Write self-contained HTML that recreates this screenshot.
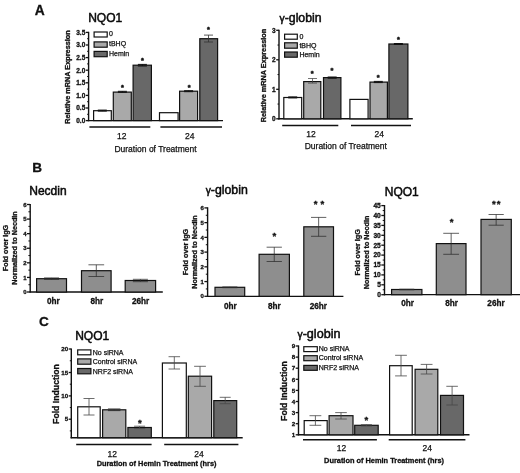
<!DOCTYPE html>
<html><head><meta charset="utf-8"><title>Figure</title>
<style>
html,body{margin:0;padding:0;background:#fff;}
body{width:520px;height:473px;overflow:hidden;}
svg{display:block;font-family:"Liberation Sans", Arial, sans-serif;}
</style></head><body>
<svg width="520" height="473" viewBox="0 0 520 473" style="filter:blur(0.35px)">
<rect x="0" y="0" width="520" height="473" fill="#fff"/>
<text x="39.80" y="15.20" font-size="13.8" font-weight="bold" stroke="#111" stroke-width="0.3" text-anchor="middle" fill="#111">A</text>
<text x="105.20" y="22.20" font-size="12" stroke="#0a0a0a" stroke-width="0.5" text-anchor="middle" fill="#0a0a0a">NQO1</text>
<line x1="88.60" y1="31.80" x2="88.60" y2="121.20" stroke="#111" stroke-width="1.4"/>
<line x1="85.80" y1="120.60" x2="88.60" y2="120.60" stroke="#111" stroke-width="1.3"/>
<text x="85.30" y="122.94" font-size="6.5" font-weight="bold" stroke="#111" stroke-width="0.3" text-anchor="end" fill="#111">0.0</text>
<line x1="85.80" y1="108.00" x2="88.60" y2="108.00" stroke="#111" stroke-width="1.3"/>
<text x="85.30" y="110.34" font-size="6.5" font-weight="bold" stroke="#111" stroke-width="0.3" text-anchor="end" fill="#111">0.5</text>
<line x1="85.80" y1="95.40" x2="88.60" y2="95.40" stroke="#111" stroke-width="1.3"/>
<text x="85.30" y="97.74" font-size="6.5" font-weight="bold" stroke="#111" stroke-width="0.3" text-anchor="end" fill="#111">1.0</text>
<line x1="85.80" y1="82.80" x2="88.60" y2="82.80" stroke="#111" stroke-width="1.3"/>
<text x="85.30" y="85.14" font-size="6.5" font-weight="bold" stroke="#111" stroke-width="0.3" text-anchor="end" fill="#111">1.5</text>
<line x1="85.80" y1="70.20" x2="88.60" y2="70.20" stroke="#111" stroke-width="1.3"/>
<text x="85.30" y="72.54" font-size="6.5" font-weight="bold" stroke="#111" stroke-width="0.3" text-anchor="end" fill="#111">2.0</text>
<line x1="85.80" y1="57.60" x2="88.60" y2="57.60" stroke="#111" stroke-width="1.3"/>
<text x="85.30" y="59.94" font-size="6.5" font-weight="bold" stroke="#111" stroke-width="0.3" text-anchor="end" fill="#111">2.5</text>
<line x1="85.80" y1="45.00" x2="88.60" y2="45.00" stroke="#111" stroke-width="1.3"/>
<text x="85.30" y="47.34" font-size="6.5" font-weight="bold" stroke="#111" stroke-width="0.3" text-anchor="end" fill="#111">3.0</text>
<line x1="85.80" y1="32.40" x2="88.60" y2="32.40" stroke="#111" stroke-width="1.3"/>
<text x="85.30" y="34.74" font-size="6.5" font-weight="bold" stroke="#111" stroke-width="0.3" text-anchor="end" fill="#111">3.5</text>
<line x1="87.10" y1="38.70" x2="88.60" y2="38.70" stroke="#111" stroke-width="1.0"/>
<line x1="87.10" y1="51.30" x2="88.60" y2="51.30" stroke="#111" stroke-width="1.0"/>
<line x1="87.10" y1="63.90" x2="88.60" y2="63.90" stroke="#111" stroke-width="1.0"/>
<line x1="87.10" y1="76.50" x2="88.60" y2="76.50" stroke="#111" stroke-width="1.0"/>
<line x1="87.10" y1="89.10" x2="88.60" y2="89.10" stroke="#111" stroke-width="1.0"/>
<line x1="87.10" y1="101.70" x2="88.60" y2="101.70" stroke="#111" stroke-width="1.0"/>
<line x1="87.10" y1="114.30" x2="88.60" y2="114.30" stroke="#111" stroke-width="1.0"/>
<line x1="87.60" y1="120.60" x2="223.00" y2="120.60" stroke="#111" stroke-width="1.4"/>
<rect x="93.60" y="110.70" width="17.70" height="9.90" fill="#fff" stroke="#111" stroke-width="1.2"/>
<rect x="113.30" y="92.10" width="18.00" height="28.50" fill="#a9a9a9" stroke="#111" stroke-width="1.2"/>
<rect x="133.10" y="65.20" width="18.30" height="55.40" fill="#686868" stroke="#111" stroke-width="1.2"/>
<rect x="159.50" y="112.70" width="18.60" height="7.90" fill="#fff" stroke="#111" stroke-width="1.2"/>
<rect x="179.60" y="91.20" width="18.00" height="29.40" fill="#a9a9a9" stroke="#111" stroke-width="1.2"/>
<rect x="199.80" y="38.70" width="17.80" height="81.90" fill="#686868" stroke="#111" stroke-width="1.2"/>
<line x1="208.50" y1="35.10" x2="208.50" y2="42.00" stroke="#333" stroke-width="0.8"/>
<line x1="204.00" y1="35.10" x2="213.00" y2="35.10" stroke="#333" stroke-width="0.8"/>
<line x1="204.00" y1="42.00" x2="213.00" y2="42.00" stroke="#333" stroke-width="0.8"/>
<line x1="142.40" y1="64.40" x2="142.40" y2="66.00" stroke="#111" stroke-width="1.0"/>
<line x1="137.90" y1="64.40" x2="146.90" y2="64.40" stroke="#111" stroke-width="1.0"/>
<line x1="137.90" y1="66.00" x2="146.90" y2="66.00" stroke="#111" stroke-width="1.0"/>
<line x1="102.30" y1="110.10" x2="102.30" y2="111.10" stroke="#111" stroke-width="1.0"/>
<line x1="97.80" y1="110.10" x2="106.80" y2="110.10" stroke="#111" stroke-width="1.0"/>
<line x1="97.80" y1="111.10" x2="106.80" y2="111.10" stroke="#111" stroke-width="1.0"/>
<line x1="122.40" y1="91.30" x2="122.40" y2="92.30" stroke="#111" stroke-width="1.0"/>
<line x1="117.90" y1="91.30" x2="126.90" y2="91.30" stroke="#111" stroke-width="1.0"/>
<line x1="117.90" y1="92.30" x2="126.90" y2="92.30" stroke="#111" stroke-width="1.0"/>
<line x1="188.60" y1="90.70" x2="188.60" y2="91.70" stroke="#111" stroke-width="1.0"/>
<line x1="184.10" y1="90.70" x2="193.10" y2="90.70" stroke="#111" stroke-width="1.0"/>
<line x1="184.10" y1="91.70" x2="193.10" y2="91.70" stroke="#111" stroke-width="1.0"/>
<text x="122.40" y="89.90" font-size="7.4" font-weight="bold" text-anchor="middle" fill="#111" stroke="#111" stroke-width="0.45">*</text>
<text x="142.40" y="63.10" font-size="7.4" font-weight="bold" text-anchor="middle" fill="#111" stroke="#111" stroke-width="0.45">*</text>
<text x="189.20" y="89.80" font-size="7.4" font-weight="bold" text-anchor="middle" fill="#111" stroke="#111" stroke-width="0.45">*</text>
<text x="208.50" y="32.10" font-size="7.4" font-weight="bold" text-anchor="middle" fill="#111" stroke="#111" stroke-width="0.45">*</text>
<rect x="94.10" y="32.00" width="13.10" height="5.00" fill="#fff" stroke="#111" stroke-width="1.2"/>
<text x="109.00" y="36.40" font-size="7" stroke="#111" stroke-width="0.25" text-anchor="start" fill="#111">0</text>
<rect x="94.10" y="41.90" width="13.10" height="5.30" fill="#a9a9a9" stroke="#111" stroke-width="1.2"/>
<text x="109.00" y="46.45" font-size="7" stroke="#111" stroke-width="0.25" text-anchor="start" fill="#111">tBHQ</text>
<rect x="94.10" y="51.40" width="13.10" height="5.30" fill="#686868" stroke="#111" stroke-width="1.2"/>
<text x="109.00" y="55.95" font-size="7" stroke="#111" stroke-width="0.25" text-anchor="start" fill="#111">Hemin</text>
<line x1="89.40" y1="126.90" x2="150.30" y2="126.90" stroke="#111" stroke-width="1.5"/>
<line x1="160.40" y1="126.90" x2="222.00" y2="126.90" stroke="#111" stroke-width="1.5"/>
<text x="121.80" y="139.10" font-size="8.5" stroke="#111" stroke-width="0.25" text-anchor="middle" fill="#111">12</text>
<text x="189.80" y="139.10" font-size="8.5" stroke="#111" stroke-width="0.25" text-anchor="middle" fill="#111">24</text>
<text x="155.50" y="152.00" font-size="8.5" stroke="#111" stroke-width="0.25" text-anchor="middle" fill="#111">Duration of Treatment</text>
<text x="69.80" y="77.00" font-size="7.3" font-weight="bold" stroke="#111" stroke-width="0.3" text-anchor="middle" transform="rotate(-90 69.80 77.00)" fill="#111">Relative mRNA Expression</text>
<text x="300.60" y="22.00" font-size="12.3" stroke="#0a0a0a" stroke-width="0.5" text-anchor="middle" fill="#0a0a0a"><tspan font-size="10.3">γ</tspan>-globin</text>
<line x1="279.00" y1="29.70" x2="279.00" y2="119.40" stroke="#111" stroke-width="1.4"/>
<line x1="276.20" y1="118.80" x2="279.00" y2="118.80" stroke="#111" stroke-width="1.3"/>
<text x="275.70" y="121.14" font-size="6.5" font-weight="bold" stroke="#111" stroke-width="0.3" text-anchor="end" fill="#111">0</text>
<line x1="276.20" y1="89.30" x2="279.00" y2="89.30" stroke="#111" stroke-width="1.3"/>
<text x="275.70" y="91.64" font-size="6.5" font-weight="bold" stroke="#111" stroke-width="0.3" text-anchor="end" fill="#111">1</text>
<line x1="276.20" y1="59.80" x2="279.00" y2="59.80" stroke="#111" stroke-width="1.3"/>
<text x="275.70" y="62.14" font-size="6.5" font-weight="bold" stroke="#111" stroke-width="0.3" text-anchor="end" fill="#111">2</text>
<line x1="276.20" y1="30.30" x2="279.00" y2="30.30" stroke="#111" stroke-width="1.3"/>
<text x="275.70" y="32.64" font-size="6.5" font-weight="bold" stroke="#111" stroke-width="0.3" text-anchor="end" fill="#111">3</text>
<line x1="277.50" y1="45.05" x2="279.00" y2="45.05" stroke="#111" stroke-width="1.0"/>
<line x1="277.50" y1="74.55" x2="279.00" y2="74.55" stroke="#111" stroke-width="1.0"/>
<line x1="277.50" y1="104.05" x2="279.00" y2="104.05" stroke="#111" stroke-width="1.0"/>
<line x1="278.30" y1="118.80" x2="412.80" y2="118.80" stroke="#111" stroke-width="1.4"/>
<rect x="283.80" y="97.50" width="17.90" height="21.30" fill="#fff" stroke="#111" stroke-width="1.2"/>
<rect x="303.70" y="81.60" width="17.10" height="37.20" fill="#a9a9a9" stroke="#111" stroke-width="1.2"/>
<rect x="323.50" y="77.60" width="17.40" height="41.20" fill="#686868" stroke="#111" stroke-width="1.2"/>
<rect x="349.90" y="99.40" width="18.20" height="19.40" fill="#fff" stroke="#111" stroke-width="1.2"/>
<rect x="370.00" y="82.10" width="17.40" height="36.70" fill="#a9a9a9" stroke="#111" stroke-width="1.2"/>
<rect x="388.90" y="44.00" width="19.00" height="74.80" fill="#686868" stroke="#111" stroke-width="1.2"/>
<line x1="312.50" y1="78.50" x2="312.50" y2="83.10" stroke="#444" stroke-width="0.75"/>
<line x1="308.00" y1="78.50" x2="317.00" y2="78.50" stroke="#444" stroke-width="0.75"/>
<line x1="308.00" y1="83.10" x2="317.00" y2="83.10" stroke="#444" stroke-width="0.75"/>
<line x1="332.20" y1="77.00" x2="332.20" y2="78.20" stroke="#111" stroke-width="1.0"/>
<line x1="327.70" y1="77.00" x2="336.70" y2="77.00" stroke="#111" stroke-width="1.0"/>
<line x1="327.70" y1="78.20" x2="336.70" y2="78.20" stroke="#111" stroke-width="1.0"/>
<line x1="292.70" y1="96.90" x2="292.70" y2="97.90" stroke="#111" stroke-width="1.0"/>
<line x1="288.20" y1="96.90" x2="297.20" y2="96.90" stroke="#111" stroke-width="1.0"/>
<line x1="288.20" y1="97.90" x2="297.20" y2="97.90" stroke="#111" stroke-width="1.0"/>
<line x1="378.30" y1="81.40" x2="378.30" y2="82.60" stroke="#111" stroke-width="1.0"/>
<line x1="373.80" y1="81.40" x2="382.80" y2="81.40" stroke="#111" stroke-width="1.0"/>
<line x1="373.80" y1="82.60" x2="382.80" y2="82.60" stroke="#111" stroke-width="1.0"/>
<line x1="398.40" y1="43.50" x2="398.40" y2="44.50" stroke="#111" stroke-width="1.0"/>
<line x1="393.90" y1="43.50" x2="402.90" y2="43.50" stroke="#111" stroke-width="1.0"/>
<line x1="393.90" y1="44.50" x2="402.90" y2="44.50" stroke="#111" stroke-width="1.0"/>
<text x="312.10" y="75.90" font-size="7.4" font-weight="bold" text-anchor="middle" fill="#111" stroke="#111" stroke-width="0.45">*</text>
<text x="332.00" y="73.40" font-size="7.4" font-weight="bold" text-anchor="middle" fill="#111" stroke="#111" stroke-width="0.45">*</text>
<text x="378.30" y="80.00" font-size="7.4" font-weight="bold" text-anchor="middle" fill="#111" stroke="#111" stroke-width="0.45">*</text>
<text x="398.40" y="41.70" font-size="7.4" font-weight="bold" text-anchor="middle" fill="#111" stroke="#111" stroke-width="0.45">*</text>
<rect x="284.60" y="34.20" width="12.70" height="5.00" fill="#fff" stroke="#111" stroke-width="1.2"/>
<text x="299.40" y="38.70" font-size="7" stroke="#111" stroke-width="0.25" text-anchor="start" fill="#111">0</text>
<rect x="284.60" y="42.80" width="12.70" height="5.40" fill="#a9a9a9" stroke="#111" stroke-width="1.2"/>
<text x="299.40" y="47.50" font-size="7" stroke="#111" stroke-width="0.25" text-anchor="start" fill="#111">tBHQ</text>
<rect x="284.60" y="52.00" width="12.70" height="5.20" fill="#686868" stroke="#111" stroke-width="1.2"/>
<text x="299.40" y="56.60" font-size="7" stroke="#111" stroke-width="0.25" text-anchor="start" fill="#111">Hemin</text>
<line x1="282.20" y1="125.40" x2="338.30" y2="125.40" stroke="#111" stroke-width="1.5"/>
<line x1="351.00" y1="125.40" x2="411.00" y2="125.40" stroke="#111" stroke-width="1.5"/>
<text x="311.00" y="137.20" font-size="8.5" stroke="#111" stroke-width="0.25" text-anchor="middle" fill="#111">12</text>
<text x="379.20" y="137.00" font-size="8.5" stroke="#111" stroke-width="0.25" text-anchor="middle" fill="#111">24</text>
<text x="345.80" y="149.20" font-size="8.5" stroke="#111" stroke-width="0.25" text-anchor="middle" fill="#111">Duration of Treatment</text>
<text x="266.30" y="75.50" font-size="7.3" font-weight="bold" stroke="#111" stroke-width="0.3" text-anchor="middle" transform="rotate(-90 266.30 75.50)" fill="#111">Relative mRNA Expression</text>
<text x="37.20" y="172.00" font-size="13.6" font-weight="bold" stroke="#111" stroke-width="0.3" text-anchor="middle" fill="#111">B</text>
<text x="47.90" y="194.70" font-size="12" stroke="#0a0a0a" stroke-width="0.5" text-anchor="middle" fill="#0a0a0a">Necdin</text>
<line x1="30.20" y1="203.90" x2="30.20" y2="292.60" stroke="#111" stroke-width="1.4"/>
<line x1="27.00" y1="292.00" x2="30.20" y2="292.00" stroke="#111" stroke-width="1.3"/>
<text x="26.50" y="294.16" font-size="6.0" font-weight="bold" stroke="#111" stroke-width="0.3" text-anchor="end" fill="#111">0</text>
<line x1="27.00" y1="277.42" x2="30.20" y2="277.42" stroke="#111" stroke-width="1.3"/>
<text x="26.50" y="279.58" font-size="6.0" font-weight="bold" stroke="#111" stroke-width="0.3" text-anchor="end" fill="#111">1</text>
<line x1="27.00" y1="262.83" x2="30.20" y2="262.83" stroke="#111" stroke-width="1.3"/>
<text x="26.50" y="264.99" font-size="6.0" font-weight="bold" stroke="#111" stroke-width="0.3" text-anchor="end" fill="#111">2</text>
<line x1="27.00" y1="248.25" x2="30.20" y2="248.25" stroke="#111" stroke-width="1.3"/>
<text x="26.50" y="250.41" font-size="6.0" font-weight="bold" stroke="#111" stroke-width="0.3" text-anchor="end" fill="#111">3</text>
<line x1="27.00" y1="233.67" x2="30.20" y2="233.67" stroke="#111" stroke-width="1.3"/>
<text x="26.50" y="235.83" font-size="6.0" font-weight="bold" stroke="#111" stroke-width="0.3" text-anchor="end" fill="#111">4</text>
<line x1="27.00" y1="219.08" x2="30.20" y2="219.08" stroke="#111" stroke-width="1.3"/>
<text x="26.50" y="221.24" font-size="6.0" font-weight="bold" stroke="#111" stroke-width="0.3" text-anchor="end" fill="#111">5</text>
<line x1="27.00" y1="204.50" x2="30.20" y2="204.50" stroke="#111" stroke-width="1.3"/>
<text x="26.50" y="206.66" font-size="6.0" font-weight="bold" stroke="#111" stroke-width="0.3" text-anchor="end" fill="#111">6</text>
<line x1="28.40" y1="211.79" x2="30.20" y2="211.79" stroke="#111" stroke-width="1.0"/>
<line x1="28.40" y1="226.38" x2="30.20" y2="226.38" stroke="#111" stroke-width="1.0"/>
<line x1="28.40" y1="240.96" x2="30.20" y2="240.96" stroke="#111" stroke-width="1.0"/>
<line x1="28.40" y1="255.54" x2="30.20" y2="255.54" stroke="#111" stroke-width="1.0"/>
<line x1="28.40" y1="270.12" x2="30.20" y2="270.12" stroke="#111" stroke-width="1.0"/>
<line x1="28.40" y1="284.71" x2="30.20" y2="284.71" stroke="#111" stroke-width="1.0"/>
<line x1="29.60" y1="292.00" x2="162.80" y2="292.00" stroke="#111" stroke-width="1.3"/>
<rect x="36.60" y="278.70" width="29.90" height="13.30" fill="#8e8e8e" stroke="#111" stroke-width="1.2"/>
<line x1="51.55" y1="277.90" x2="51.55" y2="279.50" stroke="#2c2c2c" stroke-width="0.75"/>
<line x1="44.05" y1="277.90" x2="59.05" y2="277.90" stroke="#2c2c2c" stroke-width="0.75"/>
<line x1="44.05" y1="279.50" x2="59.05" y2="279.50" stroke="#2c2c2c" stroke-width="0.75"/>
<rect x="81.50" y="270.70" width="29.60" height="21.30" fill="#8e8e8e" stroke="#111" stroke-width="1.2"/>
<line x1="96.30" y1="264.80" x2="96.30" y2="276.50" stroke="#2c2c2c" stroke-width="0.75"/>
<line x1="88.45" y1="264.80" x2="104.15" y2="264.80" stroke="#2c2c2c" stroke-width="0.75"/>
<line x1="88.45" y1="276.50" x2="104.15" y2="276.50" stroke="#2c2c2c" stroke-width="0.75"/>
<rect x="125.20" y="280.50" width="30.40" height="11.50" fill="#8e8e8e" stroke="#111" stroke-width="1.2"/>
<line x1="140.40" y1="279.30" x2="140.40" y2="281.70" stroke="#2c2c2c" stroke-width="0.75"/>
<line x1="132.90" y1="279.30" x2="147.90" y2="279.30" stroke="#2c2c2c" stroke-width="0.75"/>
<line x1="132.90" y1="281.70" x2="147.90" y2="281.70" stroke="#2c2c2c" stroke-width="0.75"/>
<text x="53.30" y="303.60" font-size="8.2" font-weight="bold" stroke="#111" stroke-width="0.3" text-anchor="middle" fill="#111">0hr</text>
<text x="96.80" y="303.60" font-size="8.2" font-weight="bold" stroke="#111" stroke-width="0.3" text-anchor="middle" fill="#111">8hr</text>
<text x="140.60" y="303.60" font-size="8.2" font-weight="bold" stroke="#111" stroke-width="0.3" text-anchor="middle" fill="#111">26hr</text>
<text x="8.20" y="248.00" font-size="7.2" font-weight="bold" stroke="#111" stroke-width="0.3" text-anchor="middle" transform="rotate(-90 8.20 248.00)" fill="#111">Fold over IgG</text>
<text x="16.80" y="248.00" font-size="7.2" font-weight="bold" stroke="#111" stroke-width="0.3" text-anchor="middle" transform="rotate(-90 16.80 248.00)" fill="#111">Normalized to Necdin</text>
<text x="226.70" y="193.80" font-size="12.3" stroke="#0a0a0a" stroke-width="0.5" text-anchor="middle" fill="#0a0a0a"><tspan font-size="10.3">γ</tspan>-globin</text>
<line x1="207.60" y1="207.30" x2="207.60" y2="296.90" stroke="#111" stroke-width="1.4"/>
<line x1="204.40" y1="296.30" x2="207.60" y2="296.30" stroke="#111" stroke-width="1.3"/>
<text x="203.90" y="298.46" font-size="6.0" font-weight="bold" stroke="#111" stroke-width="0.3" text-anchor="end" fill="#111">0</text>
<line x1="204.40" y1="281.57" x2="207.60" y2="281.57" stroke="#111" stroke-width="1.3"/>
<text x="203.90" y="283.73" font-size="6.0" font-weight="bold" stroke="#111" stroke-width="0.3" text-anchor="end" fill="#111">1</text>
<line x1="204.40" y1="266.83" x2="207.60" y2="266.83" stroke="#111" stroke-width="1.3"/>
<text x="203.90" y="268.99" font-size="6.0" font-weight="bold" stroke="#111" stroke-width="0.3" text-anchor="end" fill="#111">2</text>
<line x1="204.40" y1="252.10" x2="207.60" y2="252.10" stroke="#111" stroke-width="1.3"/>
<text x="203.90" y="254.26" font-size="6.0" font-weight="bold" stroke="#111" stroke-width="0.3" text-anchor="end" fill="#111">3</text>
<line x1="204.40" y1="237.37" x2="207.60" y2="237.37" stroke="#111" stroke-width="1.3"/>
<text x="203.90" y="239.53" font-size="6.0" font-weight="bold" stroke="#111" stroke-width="0.3" text-anchor="end" fill="#111">4</text>
<line x1="204.40" y1="222.63" x2="207.60" y2="222.63" stroke="#111" stroke-width="1.3"/>
<text x="203.90" y="224.79" font-size="6.0" font-weight="bold" stroke="#111" stroke-width="0.3" text-anchor="end" fill="#111">5</text>
<line x1="204.40" y1="207.90" x2="207.60" y2="207.90" stroke="#111" stroke-width="1.3"/>
<text x="203.90" y="210.06" font-size="6.0" font-weight="bold" stroke="#111" stroke-width="0.3" text-anchor="end" fill="#111">6</text>
<line x1="205.80" y1="215.27" x2="207.60" y2="215.27" stroke="#111" stroke-width="1.0"/>
<line x1="205.80" y1="230.00" x2="207.60" y2="230.00" stroke="#111" stroke-width="1.0"/>
<line x1="205.80" y1="244.73" x2="207.60" y2="244.73" stroke="#111" stroke-width="1.0"/>
<line x1="205.80" y1="259.47" x2="207.60" y2="259.47" stroke="#111" stroke-width="1.0"/>
<line x1="205.80" y1="274.20" x2="207.60" y2="274.20" stroke="#111" stroke-width="1.0"/>
<line x1="205.80" y1="288.93" x2="207.60" y2="288.93" stroke="#111" stroke-width="1.0"/>
<line x1="207.00" y1="296.30" x2="343.40" y2="296.30" stroke="#111" stroke-width="1.3"/>
<rect x="215.00" y="287.30" width="29.70" height="9.00" fill="#8e8e8e" stroke="#111" stroke-width="1.2"/>
<line x1="229.85" y1="286.90" x2="229.85" y2="287.70" stroke="#2c2c2c" stroke-width="0.75"/>
<line x1="222.35" y1="286.90" x2="237.35" y2="286.90" stroke="#2c2c2c" stroke-width="0.75"/>
<line x1="222.35" y1="287.70" x2="237.35" y2="287.70" stroke="#2c2c2c" stroke-width="0.75"/>
<rect x="259.10" y="254.30" width="30.30" height="42.00" fill="#8e8e8e" stroke="#111" stroke-width="1.2"/>
<line x1="274.25" y1="247.20" x2="274.25" y2="261.50" stroke="#2c2c2c" stroke-width="0.75"/>
<line x1="266.60" y1="247.20" x2="281.90" y2="247.20" stroke="#2c2c2c" stroke-width="0.75"/>
<line x1="266.60" y1="261.50" x2="281.90" y2="261.50" stroke="#2c2c2c" stroke-width="0.75"/>
<rect x="303.80" y="226.80" width="29.70" height="69.50" fill="#8e8e8e" stroke="#111" stroke-width="1.2"/>
<line x1="318.65" y1="217.40" x2="318.65" y2="236.30" stroke="#2c2c2c" stroke-width="0.75"/>
<line x1="311.00" y1="217.40" x2="326.30" y2="217.40" stroke="#2c2c2c" stroke-width="0.75"/>
<line x1="311.00" y1="236.30" x2="326.30" y2="236.30" stroke="#2c2c2c" stroke-width="0.75"/>
<text x="230.30" y="308.60" font-size="8.2" font-weight="bold" stroke="#111" stroke-width="0.3" text-anchor="middle" fill="#111">0hr</text>
<text x="274.40" y="308.60" font-size="8.2" font-weight="bold" stroke="#111" stroke-width="0.3" text-anchor="middle" fill="#111">8hr</text>
<text x="318.30" y="308.60" font-size="8.2" font-weight="bold" stroke="#111" stroke-width="0.3" text-anchor="middle" fill="#111">26hr</text>
<text x="188.20" y="252.00" font-size="7.2" font-weight="bold" stroke="#111" stroke-width="0.3" text-anchor="middle" transform="rotate(-90 188.20 252.00)" fill="#111">Fold over IgG</text>
<text x="197.00" y="252.00" font-size="7.2" font-weight="bold" stroke="#111" stroke-width="0.3" text-anchor="middle" transform="rotate(-90 197.00 252.00)" fill="#111">Normalized to Necdin</text>
<text x="274.40" y="239.40" font-size="9.6" font-weight="bold" stroke="#111" stroke-width="0.3" text-anchor="middle" fill="#111">*</text>
<text x="320.40" y="207.40" font-size="9.6" font-weight="bold" stroke="#111" stroke-width="0.3" text-anchor="middle" fill="#111" letter-spacing="2.8">**</text>
<text x="401.80" y="195.50" font-size="12" stroke="#0a0a0a" stroke-width="0.5" text-anchor="middle" fill="#0a0a0a">NQO1</text>
<line x1="384.50" y1="205.00" x2="384.50" y2="295.30" stroke="#111" stroke-width="1.4"/>
<line x1="381.30" y1="294.70" x2="384.50" y2="294.70" stroke="#111" stroke-width="1.3"/>
<text x="380.80" y="297.08" font-size="6.6" font-weight="bold" stroke="#111" stroke-width="0.3" text-anchor="end" fill="#111">0</text>
<line x1="381.30" y1="284.80" x2="384.50" y2="284.80" stroke="#111" stroke-width="1.3"/>
<text x="380.80" y="287.18" font-size="6.6" font-weight="bold" stroke="#111" stroke-width="0.3" text-anchor="end" fill="#111">5</text>
<line x1="381.30" y1="274.90" x2="384.50" y2="274.90" stroke="#111" stroke-width="1.3"/>
<text x="380.80" y="277.28" font-size="6.6" font-weight="bold" stroke="#111" stroke-width="0.3" text-anchor="end" fill="#111">10</text>
<line x1="381.30" y1="265.00" x2="384.50" y2="265.00" stroke="#111" stroke-width="1.3"/>
<text x="380.80" y="267.38" font-size="6.6" font-weight="bold" stroke="#111" stroke-width="0.3" text-anchor="end" fill="#111">15</text>
<line x1="381.30" y1="255.10" x2="384.50" y2="255.10" stroke="#111" stroke-width="1.3"/>
<text x="380.80" y="257.48" font-size="6.6" font-weight="bold" stroke="#111" stroke-width="0.3" text-anchor="end" fill="#111">20</text>
<line x1="381.30" y1="245.20" x2="384.50" y2="245.20" stroke="#111" stroke-width="1.3"/>
<text x="380.80" y="247.58" font-size="6.6" font-weight="bold" stroke="#111" stroke-width="0.3" text-anchor="end" fill="#111">25</text>
<line x1="381.30" y1="235.30" x2="384.50" y2="235.30" stroke="#111" stroke-width="1.3"/>
<text x="380.80" y="237.68" font-size="6.6" font-weight="bold" stroke="#111" stroke-width="0.3" text-anchor="end" fill="#111">30</text>
<line x1="381.30" y1="225.40" x2="384.50" y2="225.40" stroke="#111" stroke-width="1.3"/>
<text x="380.80" y="227.78" font-size="6.6" font-weight="bold" stroke="#111" stroke-width="0.3" text-anchor="end" fill="#111">35</text>
<line x1="381.30" y1="215.50" x2="384.50" y2="215.50" stroke="#111" stroke-width="1.3"/>
<text x="380.80" y="217.88" font-size="6.6" font-weight="bold" stroke="#111" stroke-width="0.3" text-anchor="end" fill="#111">40</text>
<line x1="381.30" y1="205.60" x2="384.50" y2="205.60" stroke="#111" stroke-width="1.3"/>
<text x="380.80" y="207.98" font-size="6.6" font-weight="bold" stroke="#111" stroke-width="0.3" text-anchor="end" fill="#111">45</text>
<line x1="382.70" y1="210.55" x2="384.50" y2="210.55" stroke="#111" stroke-width="1.0"/>
<line x1="382.70" y1="220.45" x2="384.50" y2="220.45" stroke="#111" stroke-width="1.0"/>
<line x1="382.70" y1="230.35" x2="384.50" y2="230.35" stroke="#111" stroke-width="1.0"/>
<line x1="382.70" y1="240.25" x2="384.50" y2="240.25" stroke="#111" stroke-width="1.0"/>
<line x1="382.70" y1="250.15" x2="384.50" y2="250.15" stroke="#111" stroke-width="1.0"/>
<line x1="382.70" y1="260.05" x2="384.50" y2="260.05" stroke="#111" stroke-width="1.0"/>
<line x1="382.70" y1="269.95" x2="384.50" y2="269.95" stroke="#111" stroke-width="1.0"/>
<line x1="382.70" y1="279.85" x2="384.50" y2="279.85" stroke="#111" stroke-width="1.0"/>
<line x1="382.70" y1="289.75" x2="384.50" y2="289.75" stroke="#111" stroke-width="1.0"/>
<line x1="383.90" y1="294.70" x2="520.50" y2="294.70" stroke="#111" stroke-width="1.3"/>
<rect x="391.60" y="289.50" width="30.30" height="5.20" fill="#8e8e8e" stroke="#111" stroke-width="1.2"/>
<line x1="406.75" y1="289.20" x2="406.75" y2="289.80" stroke="#2c2c2c" stroke-width="0.75"/>
<line x1="399.25" y1="289.20" x2="414.25" y2="289.20" stroke="#2c2c2c" stroke-width="0.75"/>
<line x1="399.25" y1="289.80" x2="414.25" y2="289.80" stroke="#2c2c2c" stroke-width="0.75"/>
<rect x="436.30" y="243.60" width="29.70" height="51.10" fill="#8e8e8e" stroke="#111" stroke-width="1.2"/>
<line x1="451.15" y1="233.30" x2="451.15" y2="254.30" stroke="#2c2c2c" stroke-width="0.75"/>
<line x1="443.25" y1="233.30" x2="459.05" y2="233.30" stroke="#2c2c2c" stroke-width="0.75"/>
<line x1="443.25" y1="254.30" x2="459.05" y2="254.30" stroke="#2c2c2c" stroke-width="0.75"/>
<rect x="481.00" y="219.40" width="30.30" height="75.30" fill="#8e8e8e" stroke="#111" stroke-width="1.2"/>
<line x1="496.15" y1="214.50" x2="496.15" y2="225.20" stroke="#2c2c2c" stroke-width="0.75"/>
<line x1="488.55" y1="214.50" x2="503.75" y2="214.50" stroke="#2c2c2c" stroke-width="0.75"/>
<line x1="488.55" y1="225.20" x2="503.75" y2="225.20" stroke="#2c2c2c" stroke-width="0.75"/>
<text x="407.50" y="305.60" font-size="8.2" font-weight="bold" stroke="#111" stroke-width="0.3" text-anchor="middle" fill="#111">0hr</text>
<text x="451.60" y="305.60" font-size="8.2" font-weight="bold" stroke="#111" stroke-width="0.3" text-anchor="middle" fill="#111">8hr</text>
<text x="496.00" y="305.60" font-size="8.2" font-weight="bold" stroke="#111" stroke-width="0.3" text-anchor="middle" fill="#111">26hr</text>
<text x="360.00" y="252.40" font-size="7.2" font-weight="bold" stroke="#111" stroke-width="0.3" text-anchor="middle" transform="rotate(-90 360.00 252.40)" fill="#111">Fold over IgG</text>
<text x="368.60" y="252.40" font-size="7.2" font-weight="bold" stroke="#111" stroke-width="0.3" text-anchor="middle" transform="rotate(-90 368.60 252.40)" fill="#111">Normalized to Necdin</text>
<text x="451.60" y="224.90" font-size="9.6" font-weight="bold" stroke="#111" stroke-width="0.3" text-anchor="middle" fill="#111">*</text>
<text x="496.80" y="207.30" font-size="9.6" font-weight="bold" stroke="#111" stroke-width="0.3" text-anchor="middle" fill="#111" letter-spacing="1.0">**</text>
<text x="44.00" y="326.00" font-size="13.6" font-weight="bold" stroke="#111" stroke-width="0.3" text-anchor="middle" fill="#111">C</text>
<text x="92.20" y="339.80" font-size="12" stroke="#0a0a0a" stroke-width="0.5" text-anchor="middle" fill="#0a0a0a">NQO1</text>
<line x1="71.30" y1="348.40" x2="71.30" y2="438.30" stroke="#111" stroke-width="1.4"/>
<line x1="68.70" y1="349.00" x2="71.30" y2="349.00" stroke="#111" stroke-width="1.3"/>
<text x="68.20" y="351.23" font-size="6.2" font-weight="bold" stroke="#111" stroke-width="0.3" text-anchor="end" fill="#111">20</text>
<line x1="68.70" y1="372.50" x2="71.30" y2="372.50" stroke="#111" stroke-width="1.3"/>
<text x="68.20" y="374.73" font-size="6.2" font-weight="bold" stroke="#111" stroke-width="0.3" text-anchor="end" fill="#111">15</text>
<line x1="68.70" y1="395.90" x2="71.30" y2="395.90" stroke="#111" stroke-width="1.3"/>
<text x="68.20" y="398.13" font-size="6.2" font-weight="bold" stroke="#111" stroke-width="0.3" text-anchor="end" fill="#111">10</text>
<line x1="68.70" y1="419.20" x2="71.30" y2="419.20" stroke="#111" stroke-width="1.3"/>
<text x="68.20" y="421.43" font-size="6.2" font-weight="bold" stroke="#111" stroke-width="0.3" text-anchor="end" fill="#111">5</text>
<line x1="69.80" y1="360.75" x2="71.30" y2="360.75" stroke="#111" stroke-width="1.0"/>
<line x1="69.80" y1="384.20" x2="71.30" y2="384.20" stroke="#111" stroke-width="1.0"/>
<line x1="69.80" y1="407.55" x2="71.30" y2="407.55" stroke="#111" stroke-width="1.0"/>
<line x1="69.80" y1="430.90" x2="71.30" y2="430.90" stroke="#111" stroke-width="1.0"/>
<line x1="70.60" y1="437.70" x2="242.70" y2="437.70" stroke="#111" stroke-width="1.4"/>
<rect x="77.70" y="406.80" width="22.50" height="30.90" fill="#fff" stroke="#111" stroke-width="1.2"/>
<line x1="89.00" y1="398.50" x2="89.00" y2="415.00" stroke="#484848" stroke-width="0.8"/>
<line x1="83.50" y1="398.50" x2="94.50" y2="398.50" stroke="#484848" stroke-width="0.8"/>
<line x1="83.50" y1="415.00" x2="94.50" y2="415.00" stroke="#484848" stroke-width="0.8"/>
<rect x="102.60" y="409.80" width="23.20" height="27.90" fill="#a9a9a9" stroke="#111" stroke-width="1.2"/>
<line x1="114.20" y1="409.00" x2="114.20" y2="410.60" stroke="#333" stroke-width="1.0"/>
<line x1="107.95" y1="409.00" x2="120.45" y2="409.00" stroke="#333" stroke-width="1.0"/>
<line x1="107.95" y1="410.60" x2="120.45" y2="410.60" stroke="#333" stroke-width="1.0"/>
<rect x="127.90" y="427.50" width="23.40" height="10.20" fill="#686868" stroke="#111" stroke-width="1.2"/>
<line x1="139.60" y1="426.20" x2="139.60" y2="428.60" stroke="#484848" stroke-width="0.8"/>
<line x1="134.10" y1="426.20" x2="145.10" y2="426.20" stroke="#484848" stroke-width="0.8"/>
<line x1="134.10" y1="428.60" x2="145.10" y2="428.60" stroke="#484848" stroke-width="0.8"/>
<rect x="162.40" y="363.00" width="23.90" height="74.70" fill="#fff" stroke="#111" stroke-width="1.2"/>
<line x1="174.30" y1="356.70" x2="174.30" y2="369.00" stroke="#484848" stroke-width="0.8"/>
<line x1="168.55" y1="356.70" x2="180.05" y2="356.70" stroke="#484848" stroke-width="0.8"/>
<line x1="168.55" y1="369.00" x2="180.05" y2="369.00" stroke="#484848" stroke-width="0.8"/>
<rect x="188.30" y="376.20" width="23.30" height="61.50" fill="#a9a9a9" stroke="#111" stroke-width="1.2"/>
<line x1="200.00" y1="366.30" x2="200.00" y2="386.30" stroke="#484848" stroke-width="0.8"/>
<line x1="194.10" y1="366.30" x2="205.90" y2="366.30" stroke="#484848" stroke-width="0.8"/>
<line x1="194.10" y1="386.30" x2="205.90" y2="386.30" stroke="#484848" stroke-width="0.8"/>
<rect x="213.80" y="400.60" width="22.90" height="37.10" fill="#686868" stroke="#111" stroke-width="1.2"/>
<line x1="225.20" y1="397.30" x2="225.20" y2="403.70" stroke="#484848" stroke-width="0.8"/>
<line x1="219.70" y1="397.30" x2="230.70" y2="397.30" stroke="#484848" stroke-width="0.8"/>
<line x1="219.70" y1="403.70" x2="230.70" y2="403.70" stroke="#484848" stroke-width="0.8"/>
<text x="139.80" y="425.75" font-size="9.5" font-weight="bold" stroke="#111" stroke-width="0.3" text-anchor="middle" fill="#111">*</text>
<rect x="77.70" y="349.90" width="13.20" height="4.90" fill="#fff" stroke="#111" stroke-width="1.2"/>
<text x="92.80" y="354.85" font-size="7" stroke="#111" stroke-width="0.25" text-anchor="start" fill="#111">No siRNA</text>
<rect x="77.70" y="358.90" width="13.20" height="5.30" fill="#a9a9a9" stroke="#111" stroke-width="1.2"/>
<text x="92.80" y="364.05" font-size="7" stroke="#111" stroke-width="0.25" text-anchor="start" fill="#111">Control siRNA</text>
<rect x="77.70" y="368.50" width="13.20" height="5.30" fill="#686868" stroke="#111" stroke-width="1.2"/>
<text x="92.80" y="373.65" font-size="7" stroke="#111" stroke-width="0.25" text-anchor="start" fill="#111">NRF2 siRNA</text>
<line x1="76.20" y1="444.50" x2="151.60" y2="444.50" stroke="#111" stroke-width="1.5"/>
<line x1="164.20" y1="444.50" x2="238.40" y2="444.50" stroke="#111" stroke-width="1.5"/>
<text x="112.30" y="456.60" font-size="8.5" stroke="#111" stroke-width="0.25" text-anchor="middle" fill="#111">12</text>
<text x="199.00" y="456.60" font-size="8.5" stroke="#111" stroke-width="0.25" text-anchor="middle" fill="#111">24</text>
<text x="156.60" y="465.60" font-size="7.4" font-weight="bold" stroke="#111" stroke-width="0.3" text-anchor="middle" fill="#111">Duration of Hemin Treatment (hrs)</text>
<text x="58.80" y="394.00" font-size="8.7" font-weight="bold" stroke="#111" stroke-width="0.3" text-anchor="middle" transform="rotate(-90 58.80 394.00)" fill="#111">Fold Induction</text>
<text x="319.00" y="338.30" font-size="12.6" stroke="#0a0a0a" stroke-width="0.5" text-anchor="middle" fill="#0a0a0a"><tspan font-size="10.3">γ</tspan>-globin</text>
<line x1="298.50" y1="345.40" x2="298.50" y2="435.40" stroke="#111" stroke-width="1.4"/>
<line x1="295.70" y1="434.80" x2="298.50" y2="434.80" stroke="#111" stroke-width="1.3"/>
<text x="295.20" y="437.03" font-size="6.2" font-weight="bold" stroke="#111" stroke-width="0.3" text-anchor="end" fill="#111">1</text>
<line x1="295.70" y1="423.70" x2="298.50" y2="423.70" stroke="#111" stroke-width="1.3"/>
<text x="295.20" y="425.93" font-size="6.2" font-weight="bold" stroke="#111" stroke-width="0.3" text-anchor="end" fill="#111">2</text>
<line x1="295.70" y1="412.60" x2="298.50" y2="412.60" stroke="#111" stroke-width="1.3"/>
<text x="295.20" y="414.83" font-size="6.2" font-weight="bold" stroke="#111" stroke-width="0.3" text-anchor="end" fill="#111">3</text>
<line x1="295.70" y1="401.50" x2="298.50" y2="401.50" stroke="#111" stroke-width="1.3"/>
<text x="295.20" y="403.73" font-size="6.2" font-weight="bold" stroke="#111" stroke-width="0.3" text-anchor="end" fill="#111">4</text>
<line x1="295.70" y1="390.40" x2="298.50" y2="390.40" stroke="#111" stroke-width="1.3"/>
<text x="295.20" y="392.63" font-size="6.2" font-weight="bold" stroke="#111" stroke-width="0.3" text-anchor="end" fill="#111">5</text>
<line x1="295.70" y1="379.30" x2="298.50" y2="379.30" stroke="#111" stroke-width="1.3"/>
<text x="295.20" y="381.53" font-size="6.2" font-weight="bold" stroke="#111" stroke-width="0.3" text-anchor="end" fill="#111">6</text>
<line x1="295.70" y1="368.20" x2="298.50" y2="368.20" stroke="#111" stroke-width="1.3"/>
<text x="295.20" y="370.43" font-size="6.2" font-weight="bold" stroke="#111" stroke-width="0.3" text-anchor="end" fill="#111">7</text>
<line x1="295.70" y1="357.10" x2="298.50" y2="357.10" stroke="#111" stroke-width="1.3"/>
<text x="295.20" y="359.33" font-size="6.2" font-weight="bold" stroke="#111" stroke-width="0.3" text-anchor="end" fill="#111">8</text>
<line x1="295.70" y1="346.00" x2="298.50" y2="346.00" stroke="#111" stroke-width="1.3"/>
<text x="295.20" y="348.23" font-size="6.2" font-weight="bold" stroke="#111" stroke-width="0.3" text-anchor="end" fill="#111">9</text>
<line x1="297.80" y1="434.80" x2="469.50" y2="434.80" stroke="#111" stroke-width="1.4"/>
<rect x="304.20" y="420.60" width="23.00" height="14.20" fill="#fff" stroke="#111" stroke-width="1.2"/>
<line x1="315.40" y1="415.70" x2="315.40" y2="425.30" stroke="#484848" stroke-width="0.8"/>
<line x1="309.50" y1="415.70" x2="321.30" y2="415.70" stroke="#484848" stroke-width="0.8"/>
<line x1="309.50" y1="425.30" x2="321.30" y2="425.30" stroke="#484848" stroke-width="0.8"/>
<rect x="329.10" y="415.70" width="23.90" height="19.10" fill="#a9a9a9" stroke="#111" stroke-width="1.2"/>
<line x1="341.00" y1="412.60" x2="341.00" y2="419.00" stroke="#484848" stroke-width="0.8"/>
<line x1="335.20" y1="412.60" x2="346.80" y2="412.60" stroke="#484848" stroke-width="0.8"/>
<line x1="335.20" y1="419.00" x2="346.80" y2="419.00" stroke="#484848" stroke-width="0.8"/>
<rect x="354.70" y="425.30" width="23.50" height="9.50" fill="#686868" stroke="#111" stroke-width="1.2"/>
<line x1="366.40" y1="424.60" x2="366.40" y2="426.00" stroke="#484848" stroke-width="0.8"/>
<line x1="360.90" y1="424.60" x2="371.90" y2="424.60" stroke="#484848" stroke-width="0.8"/>
<line x1="360.90" y1="426.00" x2="371.90" y2="426.00" stroke="#484848" stroke-width="0.8"/>
<rect x="389.60" y="365.70" width="22.60" height="69.10" fill="#fff" stroke="#111" stroke-width="1.2"/>
<line x1="401.00" y1="355.30" x2="401.00" y2="375.90" stroke="#484848" stroke-width="0.8"/>
<line x1="395.10" y1="355.30" x2="406.90" y2="355.30" stroke="#484848" stroke-width="0.8"/>
<line x1="395.10" y1="375.90" x2="406.90" y2="375.90" stroke="#484848" stroke-width="0.8"/>
<rect x="415.10" y="369.30" width="22.70" height="65.50" fill="#a9a9a9" stroke="#111" stroke-width="1.2"/>
<line x1="426.60" y1="364.40" x2="426.60" y2="374.00" stroke="#484848" stroke-width="0.8"/>
<line x1="420.70" y1="364.40" x2="432.50" y2="364.40" stroke="#484848" stroke-width="0.8"/>
<line x1="420.70" y1="374.00" x2="432.50" y2="374.00" stroke="#484848" stroke-width="0.8"/>
<rect x="440.50" y="395.40" width="23.00" height="39.40" fill="#686868" stroke="#111" stroke-width="1.2"/>
<line x1="452.10" y1="386.30" x2="452.10" y2="405.00" stroke="#484848" stroke-width="0.8"/>
<line x1="446.30" y1="386.30" x2="457.90" y2="386.30" stroke="#484848" stroke-width="0.8"/>
<line x1="446.30" y1="405.00" x2="457.90" y2="405.00" stroke="#484848" stroke-width="0.8"/>
<text x="366.30" y="423.25" font-size="9.5" font-weight="bold" stroke="#111" stroke-width="0.3" text-anchor="middle" fill="#111">*</text>
<rect x="303.80" y="346.70" width="13.50" height="4.90" fill="#fff" stroke="#111" stroke-width="1.2"/>
<text x="318.80" y="351.25" font-size="7" stroke="#111" stroke-width="0.25" text-anchor="start" fill="#111">No siRNA</text>
<rect x="303.80" y="355.70" width="13.50" height="5.00" fill="#a9a9a9" stroke="#111" stroke-width="1.2"/>
<text x="318.80" y="360.30" font-size="7" stroke="#111" stroke-width="0.25" text-anchor="start" fill="#111">Control siRNA</text>
<rect x="303.80" y="365.40" width="13.50" height="4.90" fill="#686868" stroke="#111" stroke-width="1.2"/>
<text x="318.80" y="369.95" font-size="7" stroke="#111" stroke-width="0.25" text-anchor="start" fill="#111">NRF2 siRNA</text>
<line x1="303.00" y1="439.80" x2="376.90" y2="439.80" stroke="#111" stroke-width="1.5"/>
<line x1="388.70" y1="439.80" x2="465.40" y2="439.80" stroke="#111" stroke-width="1.5"/>
<text x="341.50" y="450.90" font-size="8.5" stroke="#111" stroke-width="0.25" text-anchor="middle" fill="#111">12</text>
<text x="427.20" y="451.30" font-size="8.5" stroke="#111" stroke-width="0.25" text-anchor="middle" fill="#111">24</text>
<text x="384.00" y="463.00" font-size="7.4" font-weight="bold" stroke="#111" stroke-width="0.3" text-anchor="middle" fill="#111">Duration of Hemin Treatment (hrs)</text>
<text x="287.00" y="391.00" font-size="8.7" font-weight="bold" stroke="#111" stroke-width="0.3" text-anchor="middle" transform="rotate(-90 287.00 391.00)" fill="#111">Fold Induction</text>
</svg>
</body></html>
